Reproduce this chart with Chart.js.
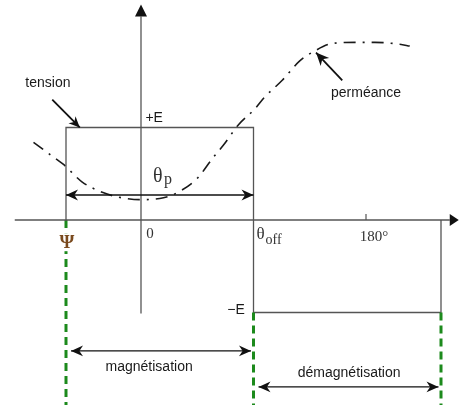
<!DOCTYPE html>
<html>
<head>
<meta charset="utf-8">
<script src="https://cdn.jsdelivr.net/npm/chart.js@4.4.1/dist/chart.umd.min.js"></script>
<style>
html,body{margin:0;padding:0;background:#fff;}
#chart{display:block;}
</style>
</head>
<body>
<canvas id="chart" width="459" height="405"></canvas>
<script>

// angles in degrees, levels in units of E

const psi = -60;

const thetaOff = 90;

const demagEnd = 240;

const tensionAngle = [psi, psi, thetaOff, thetaOff, demagEnd, demagEnd];

const tensionLevel = [0, 1, 1, -1, -1, 0];

const permAngle = [-86, -73, -62, -47, -31, -19, -1, 18, 31, 45, 58, 66, 78, 91, 99, 113, 127, 138, 154, 174, 187, 207, 215];

const permValue = [0.84, 0.71, 0.6, 0.41, 0.3, 0.25, 0.22, 0.24, 0.31, 0.45, 0.68, 0.81, 1.03, 1.2, 1.33, 1.51, 1.72, 1.82, 1.91, 1.92, 1.92, 1.9, 1.88];

const tickLabels = ["0", "180°"];

const tickAngles = [0, 180];

document.addEventListener(

"DOMContentLoaded",

function(){

    const chart = document.getElementById("chart");

    if(!chart){
        return;
    }

    const ctx = chart.getContext("2d");

    function pts(xs, ys){
        return xs.map(function(x, i){ return {x:x, y:ys[i]}; });
    }

    const green = "#1c8a1c";

    const gray = "#555555";

    function vline(x, y0, y1, color, width, dash){
        return {
            data:[{x:x, y:y0}, {x:x, y:y1}],
            borderColor:color,
            borderWidth:width,
            borderDash:dash || [],
            pointRadius:0,
            showLine:true
        };
    }

    // arrow with filled heads, coordinates in data units
    function arrow(c, sx, sy, a, b, both, size){
        const x0 = sx.getPixelForValue(a[0]);
        const y0 = sy.getPixelForValue(a[1]);
        const x1 = sx.getPixelForValue(b[0]);
        const y1 = sy.getPixelForValue(b[1]);
        c.beginPath();
        c.moveTo(x0, y0);
        c.lineTo(x1, y1);
        c.stroke();
        head(c, x0, y0, x1, y1, size);
        if(both){
            head(c, x1, y1, x0, y0, size);
        }
    }

    function head(c, x0, y0, x1, y1, size){
        const ang = Math.atan2(y1 - y0, x1 - x0);
        const w = size * 0.45;
        c.save();
        c.translate(x1, y1);
        c.rotate(ang);
        c.beginPath();
        c.moveTo(0, 0);
        c.lineTo(-size, -w);
        c.lineTo(-size * 0.7, 0);
        c.lineTo(-size, w);
        c.closePath();
        c.fill();
        c.restore();
    }

    const drawings = {
        id:"drawings",
        afterDatasetsDraw:function(ch){
            const c = ch.ctx;
            const sx = ch.scales.x;
            const sy = ch.scales.y;
            const X = function(v){ return sx.getPixelForValue(v); };
            const Y = function(v){ return sy.getPixelForValue(v); };
            c.save();

            // axis arrowheads
            c.fillStyle = "#111";
            c.beginPath();
            c.moveTo(X(0), Y(2.2) - 12);
            c.lineTo(X(0) - 6, Y(2.2));
            c.lineTo(X(0) + 6, Y(2.2));
            c.closePath();
            c.fill();
            c.beginPath();
            c.moveTo(X(247) + 9, Y(0));
            c.lineTo(X(247), Y(0) - 6);
            c.lineTo(X(247), Y(0) + 6);
            c.closePath();
            c.fill();

            // 180 tick
            c.strokeStyle = gray;
            c.lineWidth = 1.2;
            c.beginPath();
            c.moveTo(X(180), Y(0));
            c.lineTo(X(180), Y(0) - 6);
            c.stroke();

            // arrows
            c.strokeStyle = "#111";
            c.fillStyle = "#111";
            c.lineWidth = 1.3;
            arrow(c, sx, sy, [psi, 0.27], [thetaOff, 0.27], true, 12);
            arrow(c, sx, sy, [-56, -1.415], [88, -1.415], true, 12);
            arrow(c, sx, sy, [94, -1.805], [238, -1.805], true, 12);
            c.lineWidth = 1.8;
            arrow(c, sx, sy, [-71, 1.3], [-49, 1.0], false, 11);
            arrow(c, sx, sy, [161, 1.51], [140, 1.81], false, 13);

            // labels
            c.fillStyle = "#1a1a1a";
            c.textBaseline = "middle";
            c.textAlign = "center";
            c.font = "14px 'Liberation Sans', Arial, sans-serif";
            c.fillText("tension", X(-74.5), Y(1.48));
            c.fillText("perméance", X(180), Y(1.37));
            c.fillText("magnétisation", X(6.5), Y(-1.59));
            c.fillText("démagnétisation", X(166.5), Y(-1.655));
            c.textAlign = "left";
            c.fillText("+E", X(3.5), Y(1.1));
            c.textAlign = "right";
            c.fillText("−E", X(83), Y(-0.975));

            // serif labels
            c.fillStyle = "#333";
            c.textAlign = "center";
            c.font = "15px 'Liberation Serif', 'Times New Roman', serif";
            c.fillText(tickLabels[0], X(tickAngles[0]) + 9, Y(-0.15));
            c.fillText(tickLabels[1], X(tickAngles[1]) + 8, Y(-0.18));

            c.textAlign = "left";
            c.font = "20px 'Liberation Serif', 'Times New Roman', serif";
            c.fillText("θ", X(9.5), Y(0.47));
            c.font = "16px 'Liberation Serif', 'Times New Roman', serif";
            c.fillText("p", X(9.5) + 11, Y(0.43));

            c.font = "17px 'Liberation Serif', 'Times New Roman', serif";
            c.fillText("θ", X(thetaOff) + 3, Y(-0.16));
            c.font = "14px 'Liberation Serif', 'Times New Roman', serif";
            c.fillText("off", X(thetaOff) + 12, Y(-0.22));

            // Psi sits on the green dashed line with a small gap
            c.fillStyle = "#fff";
            c.fillRect(X(psi) - 8, Y(-0.24) - 9, 17, 18);
            c.fillStyle = "#7a4a1e";
            c.textAlign = "center";
            c.font = "bold 19px 'Liberation Serif', 'Times New Roman', serif";
            c.fillText("Ψ", X(psi) + 1, Y(-0.25));

            c.restore();
        }
    };

    new Chart(

    ctx,

    {

    type:"scatter",

    data:{

    datasets:[

    {
    data:[{x:-101, y:0}, {x:247, y:0}],
    borderColor:gray,
    borderWidth:1.3,
    pointRadius:0,
    showLine:true
    },

    vline(0, -1.01, 2.2, gray, 1.3),

    vline(psi, 0, -2.1, green, 3, [8, 5]),

    vline(thetaOff, -1, -2.1, green, 3, [8, 5]),

    vline(demagEnd, -1, -2.1, green, 3, [8, 5]),

    {
    data:pts(tensionAngle, tensionLevel),
    borderColor:gray,
    borderWidth:1.3,
    pointRadius:0,
    showLine:true
    },

    {
    data:pts(permAngle, permValue),
    borderColor:"#1a1a1a",
    borderWidth:1.6,
    borderDash:[12, 7, 2, 7],
    cubicInterpolationMode:"monotone",
    pointRadius:0,
    showLine:true
    }

    ]

    },

    options:{

    responsive:false,

    animation:false,

    layout:{
    padding:0
    },

    scales:{
    x:{
    type:"linear",
    display:false,
    min:-112.8,
    max:254.4
    },
    y:{
    type:"linear",
    display:false,
    min:-2.0,
    max:2.378
    }
    },

    plugins:{
    legend:{
    display:false
    },
    tooltip:{
    enabled:false
    }
    }

    },

    plugins:[drawings]

    }

    );

});
</script>
</body>
</html>
